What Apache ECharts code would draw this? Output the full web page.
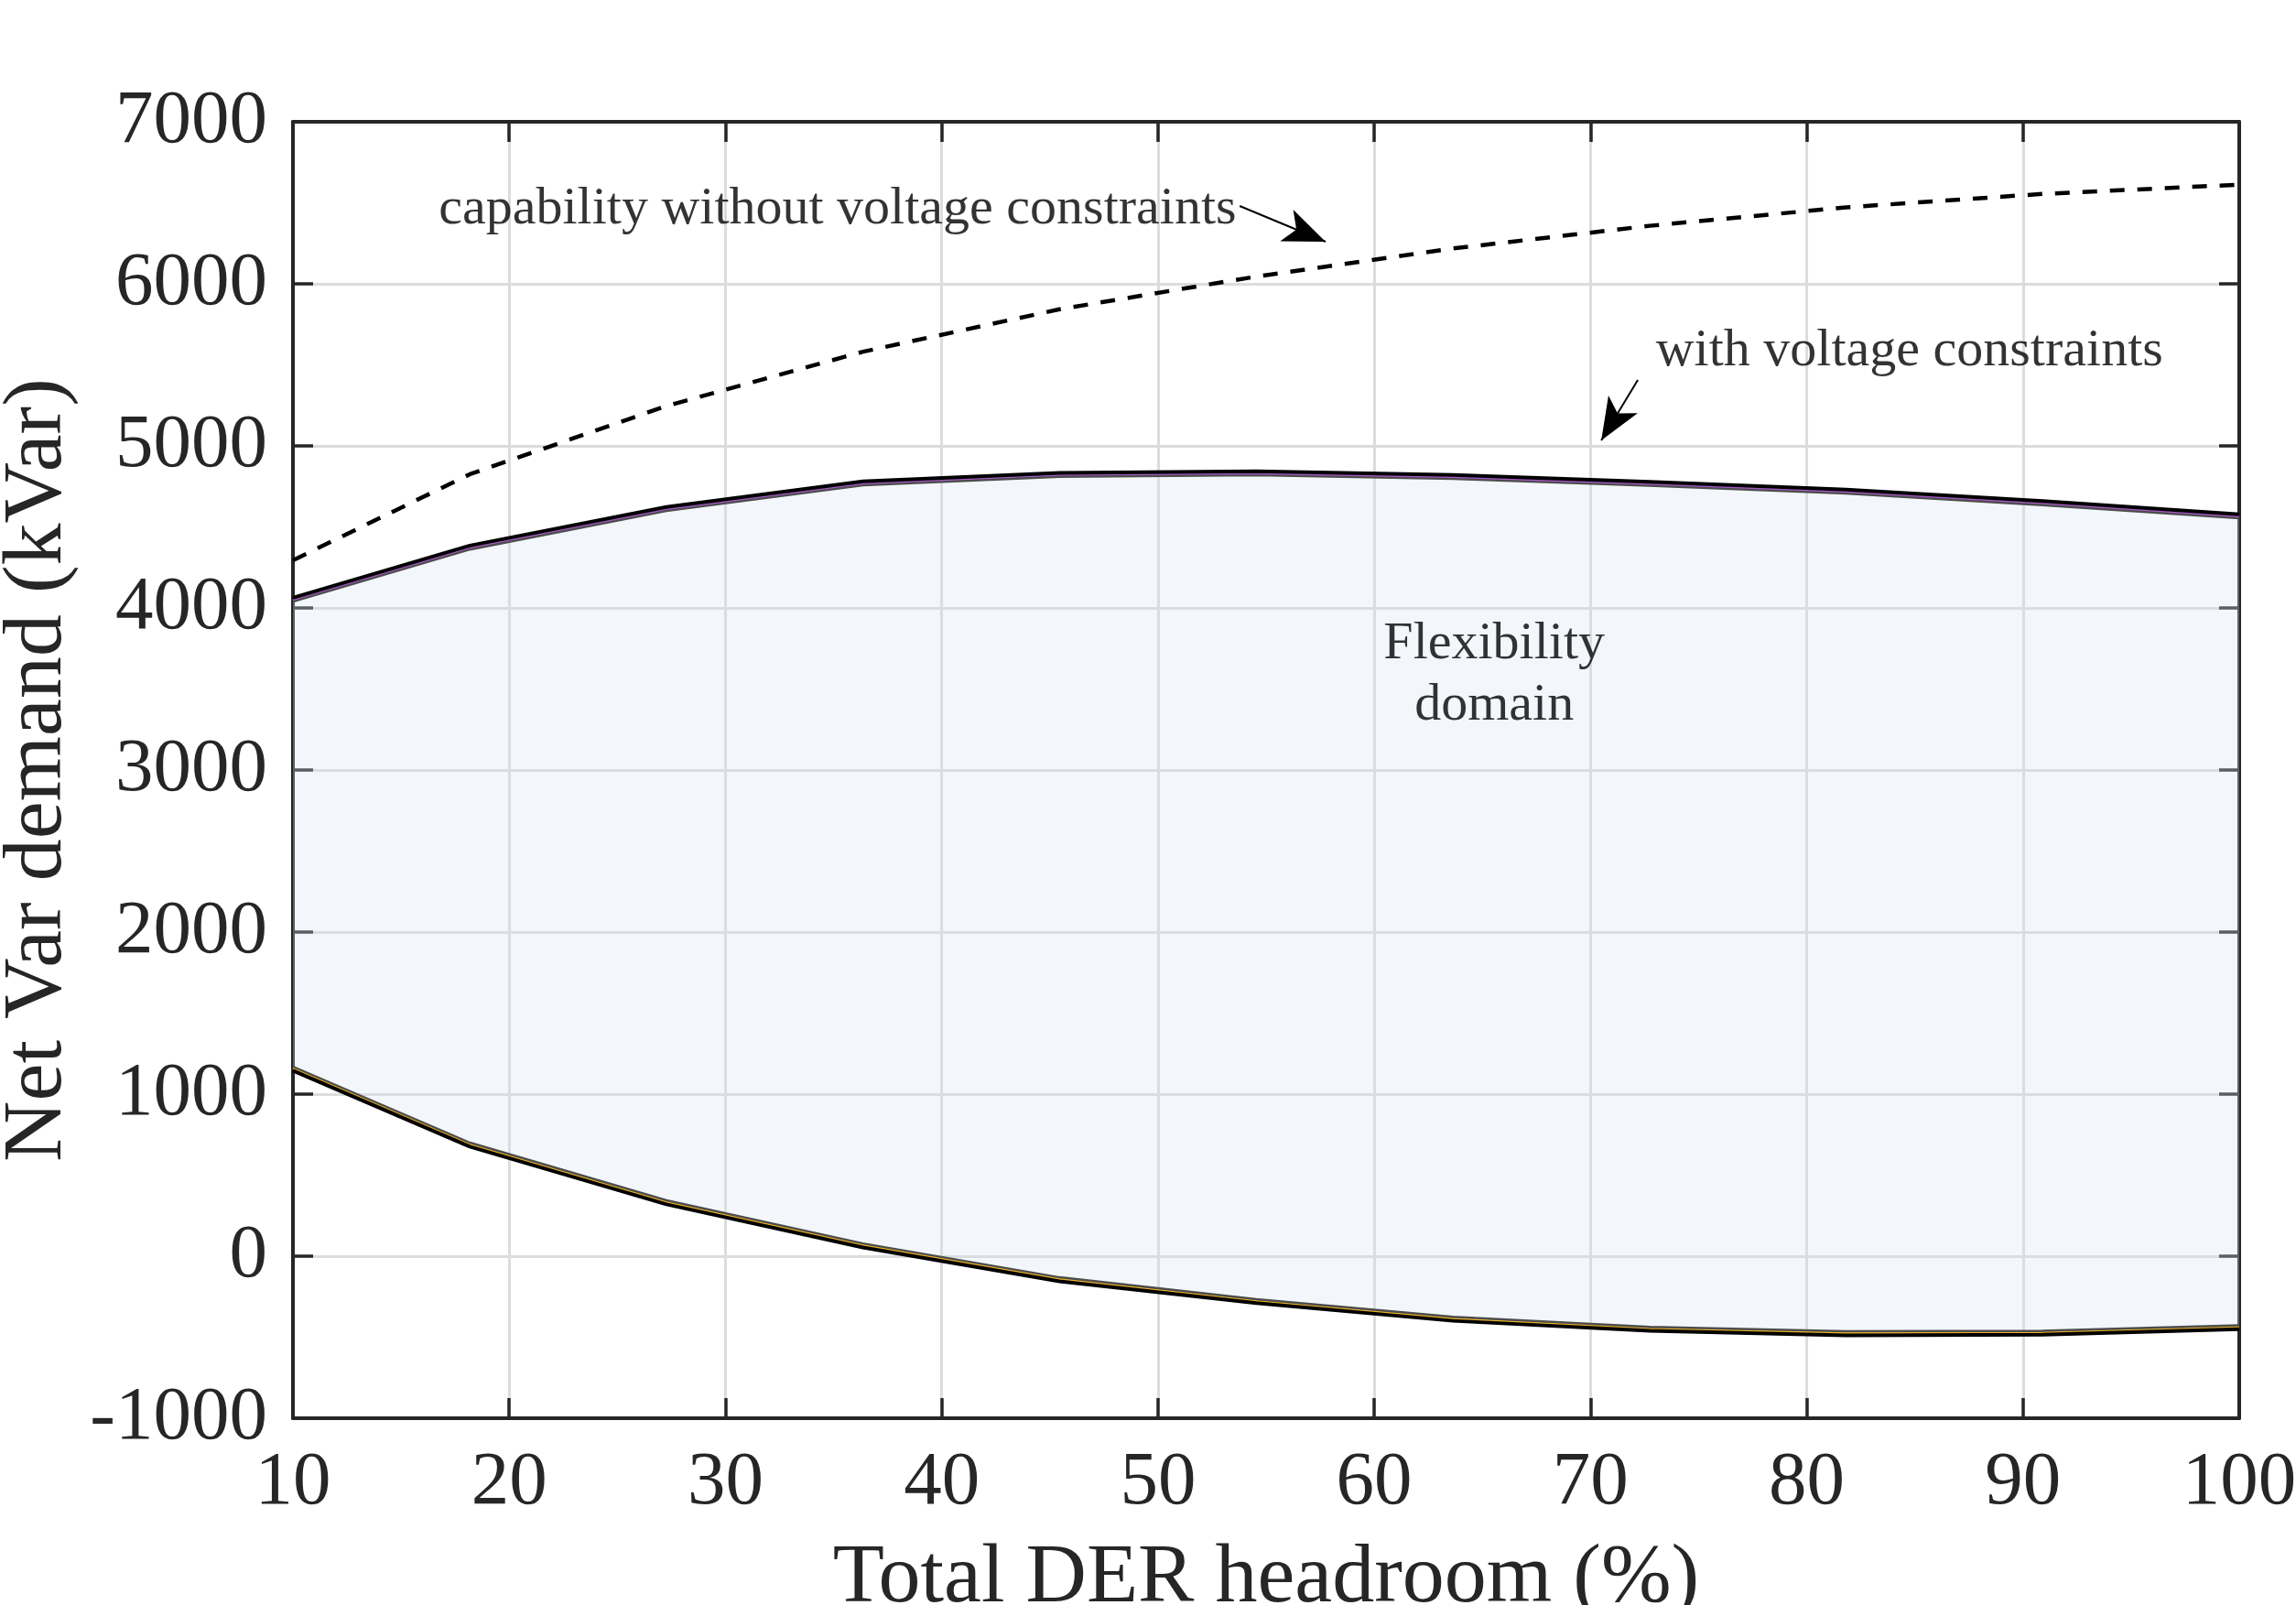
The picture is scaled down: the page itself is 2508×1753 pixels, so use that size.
<!DOCTYPE html>
<html>
<head>
    <meta charset="utf-8">
    <script src="https://cdn.jsdelivr.net/npm/echarts@6/dist/echarts.min.js"></script>
    <style>
        body { margin: 0; background: #fff; }
        #main { width: 2508px; height: 1753px; }
    </style>
</head>
<body>
<div id="main"></div>
<script type="text/javascript">
// x: total DER headroom (%)
var headroom = [10, 18.18, 27.27, 36.36, 45.45, 54.55, 63.64, 72.73, 81.82, 90.91, 100];
// capability without voltage constraints (dashed)
var capability = [4294, 4825, 5246, 5581, 5843, 6045, 6218, 6358, 6472, 6555, 6612];
// upper boundary with voltage constraints: black / purple / grey edge
var upperBlack  = [4063, 4385, 4623, 4781, 4834, 4843, 4821, 4778, 4730, 4659, 4578];
var upperPurple = [4050, 4372, 4610, 4768, 4821, 4830, 4808, 4765, 4717, 4646, 4565];
var upperEdge   = [4040, 4362, 4600, 4758, 4811, 4820, 4798, 4755, 4707, 4636, 4555];
// lower boundary: grey edge / yellow / black
var lowerEdge   = [1168, 699, 343, 77, -132, -267, -376, -438, -465, -462, -428];
var lowerYellow = [1158, 689, 333, 67, -142, -277, -386, -448, -475, -472, -438];
var lowerBlack  = [1145, 676, 320, 54, -155, -290, -399, -461, -488, -485, -451];

var xTicks = [10, 20, 30, 40, 50, 60, 70, 80, 90, 100];
var yTicks = [-1000, 0, 1000, 2000, 3000, 4000, 5000, 6000, 7000];

var font = 'Liberation Serif';
var axisColor = '#262626';

function pairs(ys) {
    var out = [];
    for (var i = 0; i < headroom.length; i++) {
        out.push([headroom[i], ys[i]]);
    }
    return out;
}

function plainLine(name, ys, color, width, z) {
    return {
        name: name, type: 'line', data: pairs(ys),
        showSymbol: false, silent: true, z: z,
        lineStyle: { color: color, width: width }
    };
}

// polygon between upper and lower edge, placed through the axes
function renderDomain(params, api) {
    if (params.dataIndex !== 0) return;
    var pts = [];
    for (var i = 0; i < headroom.length; i++) {
        pts.push(api.coord([headroom[i], upperEdge[i]]));
    }
    for (var j = headroom.length - 1; j >= 0; j--) {
        pts.push(api.coord([headroom[j], lowerEdge[j]]));
    }
    return {
        type: 'polygon',
        shape: { points: pts },
        style: { fill: 'rgba(214, 228, 245, 0.3)', stroke: null }
    };
}

var myChart = echarts.init(document.getElementById('main'));

var option = {
    animation: false,
    backgroundColor: '#ffffff',
    grid: { left: 320, right: 62, top: 133, bottom: 204, containLabel: false, outerBoundsMode: 'none' },
    xAxis: [{
        type: 'value', min: xTicks[0], max: xTicks[xTicks.length - 1], interval: 10,
        name: 'Total DER headroom (%)', nameLocation: 'middle', nameGap: 130,
        nameTextStyle: { fontFamily: font, fontSize: 92, color: axisColor },
        axisLine: { show: true, onZero: false, lineStyle: { color: axisColor, width: 4 } },
        axisTick: { show: true, inside: true, length: 22, lineStyle: { color: axisColor, width: 3.5 } },
        axisLabel: { fontFamily: font, fontSize: 83, color: axisColor, margin: 30 },
        splitLine: { show: true, lineStyle: { color: '#dcdcdc', width: 3 } }
    }, {
        type: 'value', position: 'top', min: xTicks[0], max: xTicks[xTicks.length - 1], interval: 10,
        axisLine: { show: true, onZero: false, lineStyle: { color: axisColor, width: 4 } },
        axisTick: { show: true, inside: true, length: 22, lineStyle: { color: axisColor, width: 3.5 } },
        axisLabel: { show: false },
        splitLine: { show: false }
    }],
    yAxis: [{
        type: 'value', min: yTicks[0], max: yTicks[yTicks.length - 1], interval: 1000,
        name: 'Net Var demand (kVar)', nameLocation: 'middle', nameGap: 228,
        nameTextStyle: { fontFamily: font, fontSize: 92, color: axisColor },
        axisLine: { show: true, onZero: false, lineStyle: { color: axisColor, width: 4 } },
        axisTick: { show: true, inside: true, length: 22, lineStyle: { color: axisColor, width: 3.5 } },
        axisLabel: { fontFamily: font, fontSize: 83, color: axisColor, margin: 28,
            formatter: function (v) { return String(v); } },
        splitLine: { show: true, lineStyle: { color: '#dcdcdc', width: 3 } }
    }, {
        type: 'value', position: 'right', min: yTicks[0], max: yTicks[yTicks.length - 1], interval: 1000,
        axisLine: { show: true, onZero: false, lineStyle: { color: axisColor, width: 4 } },
        axisTick: { show: true, inside: true, length: 22, lineStyle: { color: axisColor, width: 3.5 } },
        axisLabel: { show: false },
        splitLine: { show: false }
    }],
    series: [
        // flexibility domain fill
        {
            name: 'domain', type: 'custom', silent: true, z: 1,
            renderItem: renderDomain,
            data: [[headroom[0], upperEdge[0]]]
        },
        plainLine('upper edge', upperEdge, '#4d4d4d', 3, 3),
        plainLine('upper purple', upperPurple, '#a855c8', 1.8, 4),
        plainLine('upper black', upperBlack, '#000000', 4, 4),
        plainLine('lower edge', lowerEdge, '#4d4d4d', 3, 3),
        plainLine('lower yellow', lowerYellow, '#edb120', 1.8, 4),
        plainLine('lower black', lowerBlack, '#000000', 4, 4),
        {
            name: 'capability', type: 'line', data: pairs(capability),
            showSymbol: false, silent: true, z: 4,
            lineStyle: { color: '#000000', width: 4.5, type: [16, 14] }
        },
        // annotations
        {
            name: 'notes', type: 'scatter', silent: true, z: 6,
            symbolSize: 1, itemStyle: { color: 'rgba(0,0,0,0)' },
            label: { show: true, fontFamily: font, fontSize: 58, color: '#000000', lineHeight: 67 },
            data: [
                { value: [53.65, 6458], label: { formatter: 'capability without voltage constraints', position: 'left', distance: 0 } },
                { value: [73.0, 5582], label: { formatter: 'with voltage constraints', position: 'right', distance: 0 } },
                { value: [65.55, 3587], label: { formatter: 'Flexibility\ndomain', position: 'inside', align: 'center' } }
            ],
            markLine: {
                silent: true, animation: false,
                symbol: ['none', 'arrow'], symbolSize: [28, 46],
                label: { show: false },
                lineStyle: { color: '#000000', width: 2, type: 'solid' },
                data: [
                    [{ coord: [53.78, 6480] }, { coord: [57.75, 6260] }],
                    [{ coord: [72.19, 5407] }, { coord: [70.5, 5034] }]
                ]
            }
        }
    ]
};

myChart.setOption(option);
</script>
</body>
</html>
